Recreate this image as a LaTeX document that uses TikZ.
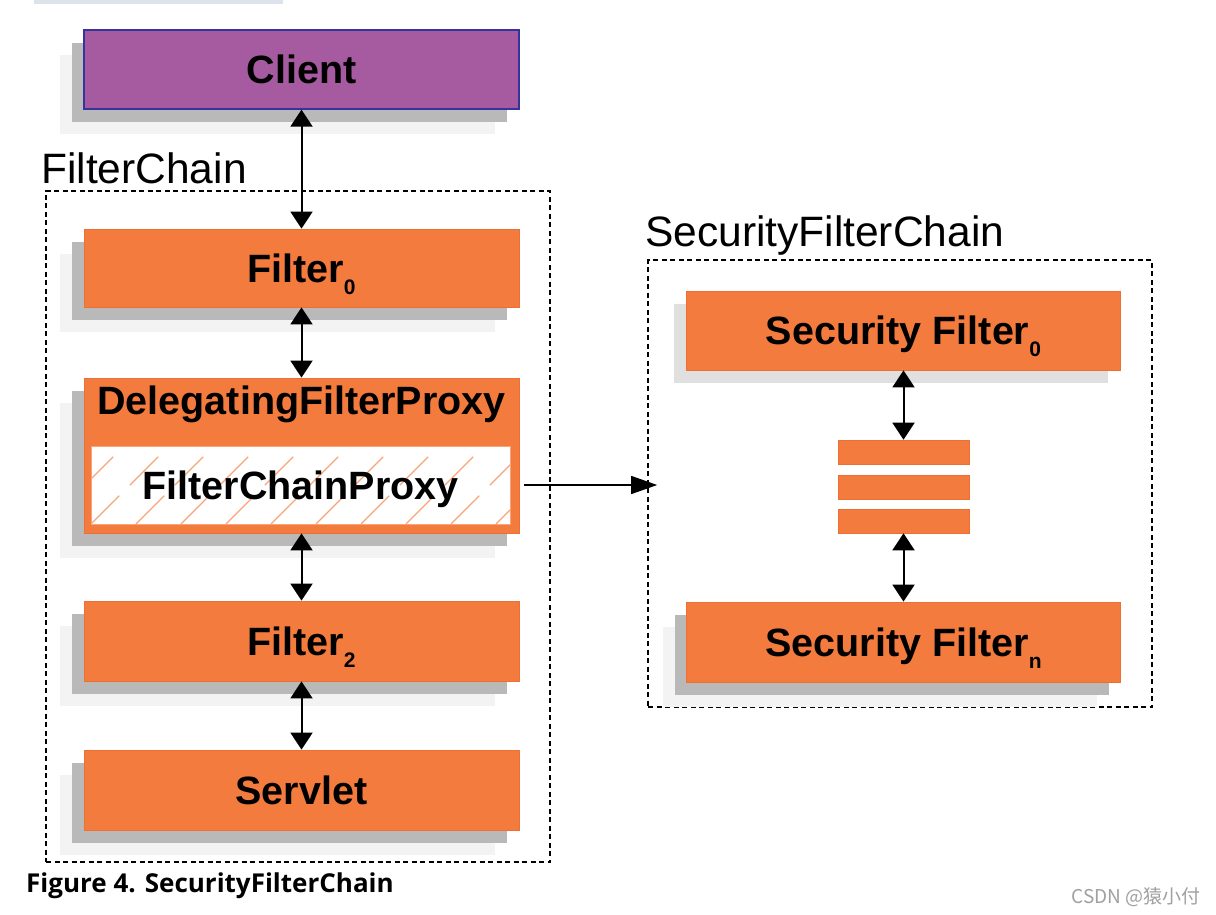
\documentclass[tikz,border=0pt]{standalone}
\usepackage{fontspec}
\setmainfont{Liberation Sans}
\newfontfamily\capfont{Open Sans}
\newfontfamily\cjkfont{Noto Sans CJK SC}
\usetikzlibrary{arrows.meta}
\definecolor{sorange}{HTML}{F47B3E}
\definecolor{sedge}{HTML}{EE6F33}
\definecolor{cpurple}{HTML}{A65AA0}
\definecolor{cborder}{HTML}{34349C}
\definecolor{shdark}{HTML}{B9B9B9}
\definecolor{shlight}{HTML}{F3F3F3}
\definecolor{shmid}{HTML}{E0E0E0}
\definecolor{hatchc}{HTML}{F9A478}
\definecolor{topbar}{HTML}{DCE3EA}
\definecolor{wmgray}{HTML}{A0A0A0}
\newcommand\sbx[1]{\smash{\raisebox{-12pt}{\fontsize{21}{21}\selectfont #1}}}
\begin{document}
\begin{tikzpicture}[x=1pt,y=-1pt,
  box/.style={rectangle, minimum width=435pt, minimum height=79pt, inner sep=0pt,
    fill=sorange, draw=sedge, line width=0.8pt,
    font=\bfseries\fontsize{39.5}{39.5}\selectfont, text height=28pt, text depth=0pt},
  shadows/.style={preaction={fill=shlight,transform canvas={shift={(-24pt,-25pt)}}},
    preaction={fill=shdark,transform canvas={shift={(-12pt,-13pt)}}}},
  softshadow/.style={preaction={fill=shmid,transform canvas={shift={(-13pt,-13pt)}}}},
  bar/.style={rectangle, minimum width=131pt, minimum height=24pt, inner sep=0pt,
    fill=sorange, draw=sedge, line width=0.6pt},
  dashbox/.style={rectangle, draw=black, dash pattern=on 5pt off 3.5pt, line width=1.6pt, inner sep=0pt},
  dbl/.style={line width=2pt, {Triangle[width=22pt,length=17pt]}-{Triangle[width=22pt,length=17pt]}},
  sarr/.style={line width=1.3pt, -{Triangle[width=18pt,length=26pt]}},
  hatchline/.style={draw=hatchc, line width=1.3pt, dash pattern=on 40pt off 15pt},
  lbl/.style={anchor=base west, inner sep=0pt, font=\fontsize{42.5}{42.5}\selectfont}
]
\useasboundingbox (0,0) rectangle (1216,915);
\fill[white] (0,0) rectangle (1216,915);
\fill[topbar] (34,0) rectangle (283,4.5);

% containers
\node[dashbox, minimum width=504pt, minimum height=671pt] (fcbox) at (298,526.5) {};
\node[dashbox, minimum width=504pt, minimum height=447pt] (sfcbox) at (900,483.5) {};
\node[lbl] (fclabel) at (41,183) {FilterChain};
\node[lbl] (sfclabel) at (645,246) {SecurityFilterChain};

% left column
\node[box, shadows, fill=cpurple, draw=cborder, line width=1.3pt] (client) at (301.5,69.5) {Client};
\node[box, shadows, minimum height=78pt] (f0) at (301.5,268) {Filter\sbx{0}};
\node[box, shadows, minimum height=155pt] (dfp) at (301.5,455.5) {};
\node[anchor=base, inner sep=0pt, font=\bfseries\fontsize{39.5}{39.5}\selectfont] (dfplabel) at (301.5,414) {DelegatingFilterProxy};
\node[rectangle, minimum width=419pt, minimum height=78pt, inner sep=0pt, fill=white, draw=hatchc, line width=0.8pt,
  font=\bfseries\fontsize{39.5}{39.5}\selectfont, text height=28pt, text depth=0pt,
  path picture={\foreach \i in {-2,...,10}
     \draw[hatchline] ([xshift=\i*45pt]path picture bounding box.south west) -- ++(90pt,90pt);}] (fcp) at (300.5,485) {FilterChainProxy};
\node[box, shadows, minimum height=80pt] (f2) at (301.5,641) {Filter\sbx{2}};
\node[box, shadows, minimum height=80pt] (servlet) at (301.5,790) {Servlet};

% right column
\node[box, softshadow, minimum width=434pt] (sf0) at (903.5,330.5) {Security Filter\sbx{0}};
\node[bar] (bar1) at (903.5,452) {};
\node[bar] (bar2) at (903.5,487) {};
\node[bar] (bar3) at (903.5,521) {};
\node[box, shadows, minimum width=434pt, minimum height=80pt] (sfn) at (903.5,642) {Security Filter\sbx{n}};

% connectors
\draw[dbl] (client.south) -- (f0.north);
\draw[dbl] (f0.south) -- (dfp.north);
\draw[dbl] (dfp.south) -- (f2.north);
\draw[dbl] (f2.south) -- (servlet.north);
\draw[dbl] (sf0.south) -- (bar1.north);
\draw[dbl] (bar3.south) -- (sfn.north);
\draw[sarr] ([xshift=14pt]fcp.east) -- ([xshift=10pt]sfcbox.west |- fcp.east);

% caption and watermark
\node[anchor=base west, inner sep=0pt, font=\capfont\bfseries\fontsize{26}{26}\selectfont] (caption) at (26,892) {Figure 4. SecurityFilterChain};
\node[anchor=base east, inner sep=0pt, text=wmgray, font=\cjkfont\fontsize{19}{19}\selectfont] (wm) at (1201,903) {CSDN @猿小付};
\end{tikzpicture}
\end{document}
